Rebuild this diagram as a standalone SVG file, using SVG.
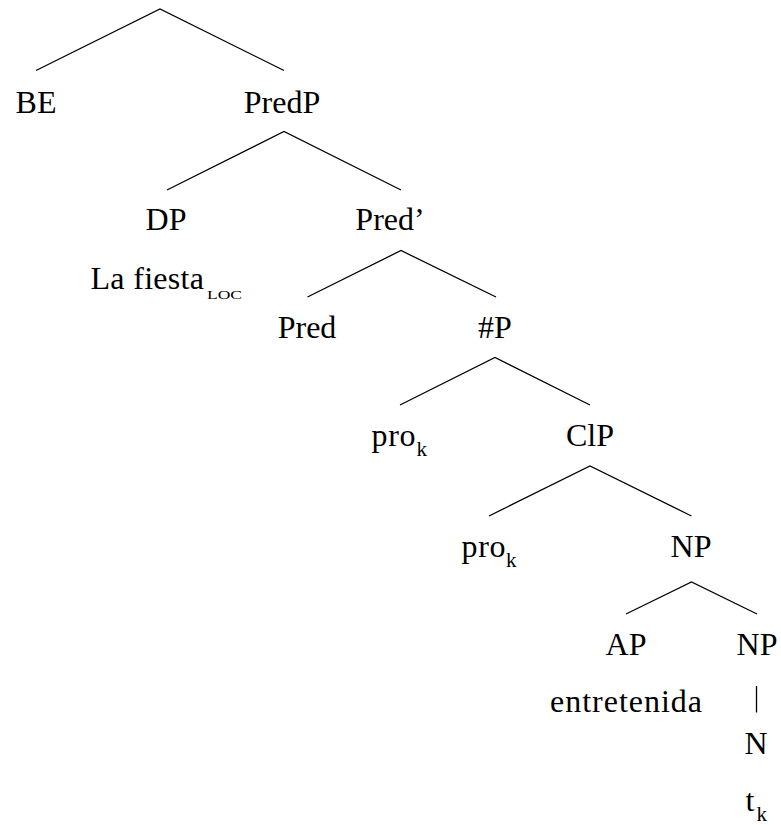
<svg xmlns="http://www.w3.org/2000/svg" width="781" height="825" viewBox="0 0 781 825">
<style>
text{font-family:"Liberation Serif","DejaVu Serif",serif;fill:#000}
.t{font-size:32px;text-anchor:middle}
.b{font-size:32px}
.s{font-size:21px}
.sc{font-size:13px}
.e{stroke:#000;stroke-width:1.3;fill:none}
</style>
<rect width="781" height="825" fill="#fff"/>
<g id="connectors">
<polyline class="e" points="36,70.5 160,9 284,70.5"/>
<polyline class="e" points="167,190 284,131.5 401,190"/>
<polyline class="e" points="307.5,297 401,250.5 496,297"/>
<polyline class="e" points="400,405 495,357.5 590,405"/>
<polyline class="e" points="489,516 590,466 691.5,516"/>
<polyline class="e" points="626,614 691.5,582 757,614"/>
<line class="e" x1="756.5" y1="686" x2="756.5" y2="712.5" stroke="#444"/>
</g>
<g id="BE"><text class="t" x="36" y="113">BE</text></g>
<g id="PredP"><text class="t" x="282" y="113">PredP</text></g>
<g id="DP"><text class="t" x="166" y="230">DP</text><text class="b" x="90.5" y="288.5" textLength="113.5">La fiesta</text><text class="sc" x="207" y="299" textLength="35" lengthAdjust="spacingAndGlyphs">LOC</text></g>
<g id="PredBar"><text class="t" x="390" y="230">Pred’</text></g>
<g id="Pred"><text class="t" x="307" y="338">Pred</text></g>
<g id="NumP"><text class="t" x="495" y="338">#P</text></g>
<g id="pro1"><text class="b" x="371.5" y="446" textLength="44">pro</text><text class="s" x="416.5" y="456">k</text></g>
<g id="ClP"><text class="t" x="590" y="446">ClP</text></g>
<g id="pro2"><text class="b" x="461.5" y="557" textLength="44">pro</text><text class="s" x="506" y="567">k</text></g>
<g id="NP1"><text class="t" x="691" y="557">NP</text></g>
<g id="AP"><text class="t" x="626" y="655">AP</text><text class="t" x="626" y="712" textLength="152">entretenida</text></g>
<g id="NP2"><text class="t" x="757" y="655">NP</text></g>
<g id="N"><text class="t" x="756" y="754">N</text></g>
<g id="tk"><text class="b" x="745.5" y="810.5">t</text><text class="s" x="756.5" y="820.5">k</text></g>
</svg>
